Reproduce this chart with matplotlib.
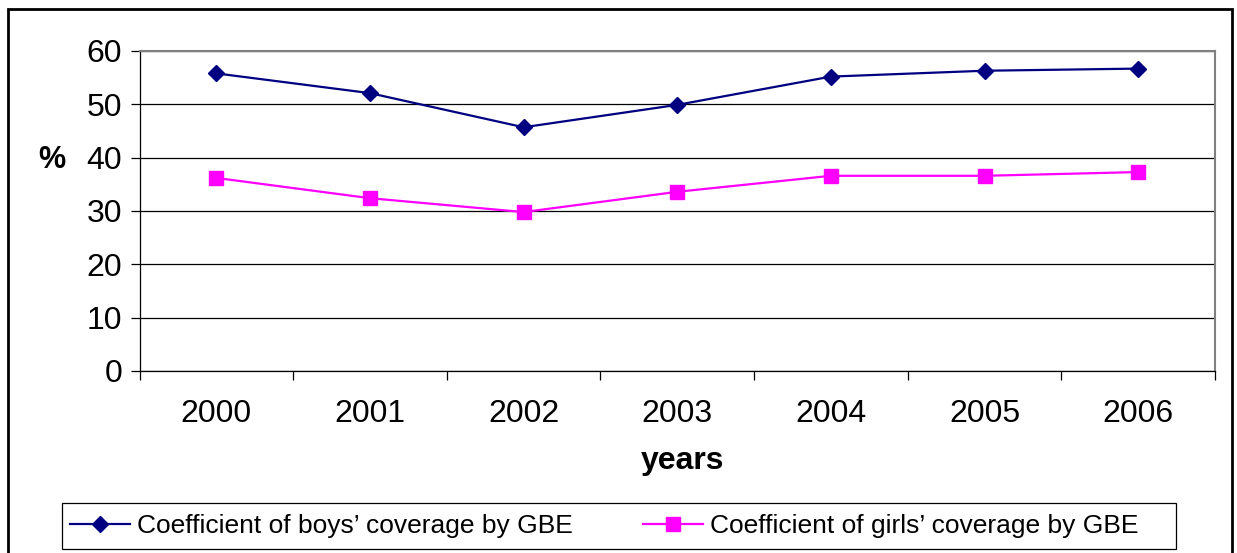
import matplotlib
matplotlib.use("Agg")
import matplotlib.pyplot as plt
from matplotlib.patches import Rectangle

plt.rcParams['font.family'] = ['Liberation Sans', 'DejaVu Sans']

## Data
years = ["2000", "2001", "2002", "2003", "2004", "2005", "2006"]
boys = [55.8, 52.1, 45.7, 49.9, 55.2, 56.3, 56.7]
girls = [36.2, 32.4, 29.8, 33.6, 36.6, 36.6, 37.3]
y_ticks = [0, 10, 20, 30, 40, 50, 60]

## Figure
W, H = 1237, 553
fig = plt.figure(figsize=(W / 100, H / 100), dpi=100)
ax = fig.add_axes([139.5 / W, 1 - 371 / H, (1215 - 139.5) / W, (371 - 51) / H])

x = list(range(len(years)))
ax.plot(x, boys, color="#000080", lw=1.6, marker="D", ms=8,
        label="Coefficient of boys\u2019 coverage by GBE")
ax.plot(x, girls, color="#FF00FF", lw=1.6, marker="s", ms=9.5,
        label="Coefficient of girls\u2019 coverage by GBE")

ax.set_ylim(0, 60)
ax.set_xlim(-0.5, len(years) - 0.5)
ax.set_yticks(y_ticks)
ax.set_yticklabels([str(v) for v in y_ticks], fontsize=23)
ax.yaxis.grid(True, color="black", lw=0.9)
ax.set_axisbelow(True)

# category ticks sit between the years, labels in the middle
ax.set_xticks([i - 0.5 for i in range(len(years) + 1)])
ax.set_xticklabels([])
ax.set_xticks(x, minor=True)
ax.set_xticklabels(years, minor=True, fontsize=23)
ax.tick_params(axis="x", which="major", direction="out", length=6.5, width=0.9)
ax.tick_params(axis="x", which="minor", length=0, pad=20)
ax.tick_params(axis="y", direction="out", length=6.5, width=0.9, pad=6)

for side in ["top", "right"]:
    ax.spines[side].set_color("#808080")
    ax.spines[side].set_linewidth(1.5)
for side in ["left", "bottom"]:
    ax.spines[side].set_color("black")
    ax.spines[side].set_linewidth(0.9)

fig.text(52 / W, 1 - 160 / H, "%", fontsize=22, fontweight="bold",
         ha="center", va="center")
fig.text(683 / W, 1 - 461 / H, "years", fontsize=23, fontweight="bold",
         ha="center", va="center")

leg = fig.legend(loc="center left", ncol=2, fontsize=19,
                 bbox_to_anchor=(62 / W, 1 - 526 / H),
                 frameon=False,
                 handlelength=2.27, handletextpad=0.27, columnspacing=2.67,
                 borderpad=0.3, borderaxespad=0)

# legend frame is wider than its content, like the original
fig.patches.append(Rectangle((62 / W, 1 - 549 / H), (1176 - 62) / W, 46 / H,
                             transform=fig.transFigure, fill=False,
                             edgecolor="black", lw=0.9))

# outer chart border
fig.patches.append(Rectangle((8 / W, -0.05), (1232 - 8) / W, 1.05 - 9 / H,
                             transform=fig.transFigure, fill=False,
                             edgecolor="black", lw=2, zorder=-1))

fig.savefig("out.png", dpi=100)
